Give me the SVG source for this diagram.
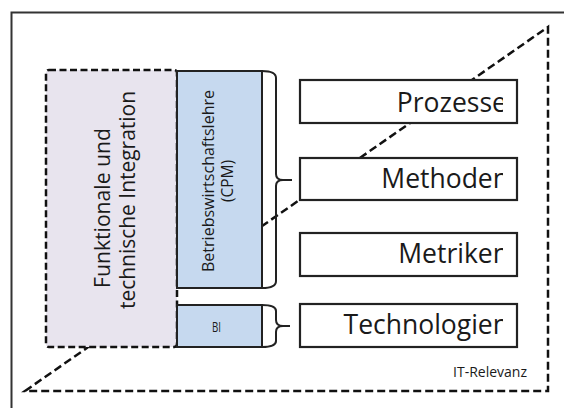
<svg xmlns="http://www.w3.org/2000/svg" width="564" height="408" viewBox="0 0 564 408">
  <defs>
    <style>
      .txt { font-family: "Open Sans", "Liberation Sans", sans-serif; fill: #1a1a1a; }
      .dash { fill: none; stroke: #111; stroke-width: 2.5; stroke-dasharray: 8 4; }
      .solid { stroke: #222; stroke-width: 2; }
      .brace { fill: none; stroke: #222; stroke-width: 2; }
      .item { fill: #fff; stroke: #222; stroke-width: 2.2; }
      .label { font-size: 26.5px; text-anchor: end; }
    </style>
    <clipPath id="itemClip">
      <rect x="300" y="70" width="203" height="290"/>
    </clipPath>
  </defs>

  <rect width="564" height="408" fill="#fff"/>

  <!-- outer frame (continues past the right and bottom edge) -->
  <rect x="11.5" y="12.5" width="620" height="460" fill="none" stroke="#333" stroke-width="2"/>

  <!-- IT relevance triangle -->
  <g id="it-relevanz">
    <path class="dash" d="M25,391 L548,27 L548,391 Z"/>
    <text class="txt" x="527" y="377" font-size="14" text-anchor="end" fill="#333">IT-Relevanz</text>
  </g>

  <!-- functional and technical integration -->
  <g id="integration">
    <rect x="46" y="70" width="131" height="277" rx="3" fill="#e8e4ee" stroke="#111" stroke-width="2.5" stroke-dasharray="7 3.5"/>
    <text class="txt" transform="translate(110,208) rotate(-90)" font-size="22" text-anchor="middle" textLength="160" lengthAdjust="spacingAndGlyphs">Funktionale und</text>
    <text class="txt" transform="translate(135,200) rotate(-90)" font-size="22" text-anchor="middle" textLength="218" lengthAdjust="spacingAndGlyphs">technische Integration</text>
  </g>

  <!-- business administration (CPM) -->
  <g id="cpm">
    <rect class="solid" x="177" y="71" width="85" height="217" fill="#c6d9ef"/>
    <text class="txt" transform="translate(214,181) rotate(-90)" font-size="15.5" text-anchor="middle" textLength="182" lengthAdjust="spacingAndGlyphs">Betriebswirtschaftslehre</text>
    <text class="txt" transform="translate(233,181) rotate(-90)" font-size="15.5" text-anchor="middle">(CPM)</text>
  </g>

  <!-- BI -->
  <g id="bi">
    <rect class="solid" x="177" y="305" width="85" height="42" fill="#c6d9ef"/>
    <text class="txt" x="216.5" y="332" font-size="15" text-anchor="middle" textLength="9" lengthAdjust="spacingAndGlyphs">BI</text>
  </g>

  <!-- braces -->
  <g id="connectors">
    <path class="brace" d="M262,71 Q276,71 276,78 V174 Q276,180 283,180 H292 M283,180 Q276,180 276,186 V281 Q276,288 262,288"/>
    <path class="brace" d="M262,305 Q276,305 276,311 V320 Q276,326 283,326 H290 M283,326 Q276,326 276,332 V341 Q276,347 262,347"/>
  </g>

  <!-- right column -->
  <g id="prozesse">
    <rect class="item" x="300" y="80" width="217" height="43"/>
    <text class="txt label" x="507" y="112" clip-path="url(#itemClip)">Prozesse</text>
  </g>
  <g id="methoden">
    <rect class="item" x="300" y="158" width="217" height="42"/>
    <text class="txt label" x="509" y="188" clip-path="url(#itemClip)">Methoden</text>
  </g>
  <g id="metriken">
    <rect class="item" x="300" y="233" width="217" height="43"/>
    <text class="txt label" x="509" y="263" clip-path="url(#itemClip)">Metriken</text>
  </g>
  <g id="technologien">
    <rect class="item" x="300" y="304" width="217" height="43"/>
    <text class="txt label" x="509" y="334" clip-path="url(#itemClip)">Technologien</text>
  </g>
</svg>
